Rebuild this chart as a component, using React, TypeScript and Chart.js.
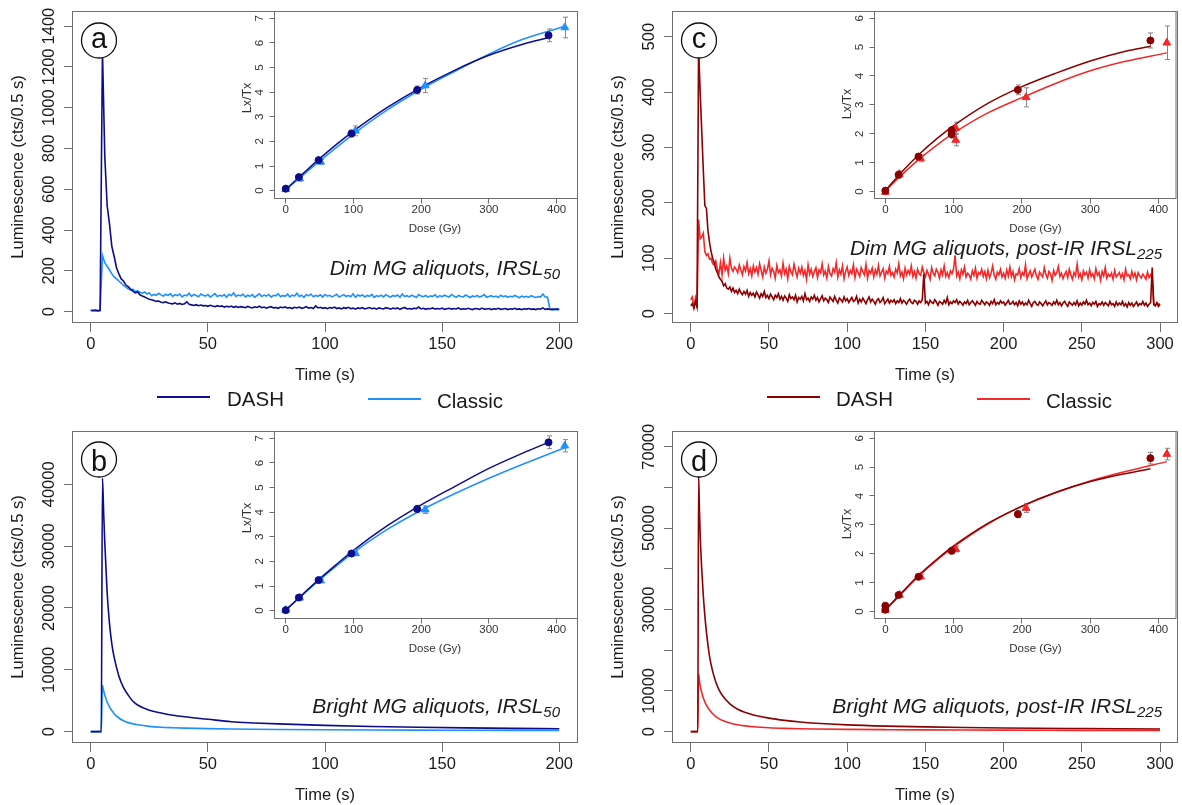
import React, { useEffect, useRef } from "react";
import { Chart, registerables } from "chart.js";
Chart.register(...registerables);

const FONT = "'Liberation Sans', Arial, Helvetica, sans-serif";
const NAVY = "#0c0c8c";
const SKY = "#1e90ff";
const DARKRED = "#8b0000";
const RED = "#f2282a";
const AXIS = "#6e6e6e";
const TEXT = "#1a1a1a";

// ---------------- DATA ----------------
const CHANNEL_S = 1; // dim traces: one value per second of stimulation

const TIME_TICKS_200 = [0, 50, 100, 150, 200];
const TIME_TICKS_300 = [0, 50, 100, 150, 200, 250, 300];
const A_Y_TICKS = [0, 200, 400, 600, 800, 1000, 1200, 1400];
const B_Y_TICKS = [0, 10000, 20000, 30000, 40000];
const C_Y_TICKS = [0, 100, 200, 300, 400, 500];
const D_Y_TICKS = [0, 10000, 20000, 30000, 40000, 50000, 60000, 70000];
const D_Y_LABELS = [0, 10000, 30000, 50000, 70000];
const DOSE_TICKS = [0, 100, 200, 300, 400];
const LXTX_TICKS_7 = [0, 1, 2, 3, 4, 5, 6, 7];
const LXTX_TICKS_6 = [0, 1, 2, 3, 4, 5, 6];

// (a) Dim MG, IRSL50 — counts per channel, t = 0..200 s
const A_DASH = [
  5, 4, 6, 3, 5, 1280, 760, 520, 430, 320, 270, 215, 185, 160, 150, 130, 122, 110, 100, 92,
  96, 82, 76, 72, 66, 60, 58, 54, 50, 52, 46, 44, 48, 42, 40, 38, 43, 36, 40, 35,
  38, 48, 36, 33, 30, 34, 29, 32, 28, 30, 26, 31, 27, 24, 29, 25, 28, 22, 26, 23,
  27, 21, 25, 20, 24, 22, 19, 25, 21, 18, 23, 20, 26, 19, 22, 17, 21, 24, 18, 20,
  16, 22, 19, 23, 17, 20, 15, 21, 18, 22, 16, 19, 24, 17, 20, 15, 28, 18, 21, 16,
  19, 14, 20, 17, 22, 15, 18, 13, 19, 16, 21, 14, 17, 12, 18, 15, 19, 13, 16, 20,
  14, 17, 12, 18, 15, 13, 19, 16, 12, 17, 14, 18, 11, 16, 20, 13, 15, 12, 17, 14,
  22, 13, 16, 11, 15, 14, 18, 12, 15, 13, 17, 11, 14, 16, 12, 15, 13, 18, 11, 14,
  12, 16, 13, 10, 15, 14, 11, 17, 12, 13, 15, 10, 14, 12, 16, 11, 13, 15, 10, 14,
  12, 16, 11, 13, 10, 14, 12, 15, 11, 13, 10, 14, 12, 18, 11, 13, 10, 12, 11, 14,
  10,
];
const A_CLASSIC = [
  8, 6, 9, 5, 7, 275, 240, 222, 205, 185, 170, 160, 150, 140, 128, 120, 112, 105, 110, 98,
  102, 95, 90, 96, 86, 92, 78, 84, 80, 90, 82, 76, 85, 79, 88, 74, 83, 78, 86, 72,
  81, 77, 90, 75, 84, 79, 73, 86, 80, 76, 84, 71, 79, 88, 74, 80, 76, 83, 70, 85,
  78, 92, 74, 81, 77, 86, 72, 80, 75, 83, 70, 79, 87, 74, 81, 76, 84, 71, 80, 77,
  88, 73, 79, 75, 85, 72, 81, 76, 90, 74, 80, 70, 83, 77, 86, 73, 79, 75, 82, 71,
  84, 76, 80, 72, 78, 85, 71, 77, 83, 74, 79, 73, 87, 70, 81, 76, 82, 72, 79, 75,
  84, 70, 78, 74, 80, 72, 83, 76, 71, 79, 75, 81, 70, 86, 74, 78, 72, 80, 75, 69,
  83, 76, 73, 79, 71, 77, 74, 82, 70, 78, 73, 80, 75, 71, 84, 76, 70, 79, 74, 72,
  81, 75, 69, 77, 73, 79, 71, 76, 83, 70, 74, 78, 72, 76, 69, 80, 73, 77, 70, 75,
  72, 79, 74, 68, 76, 71, 75, 70, 78, 73, 69, 74, 71, 86, 72, 70, 12, 9, 11, 8,
  10,
];

// (c) Dim MG, post-IR IRSL225 — t = 0..300 s
const C_DASH = [
  14, 18, 10, 22, 12, 480, 400, 330, 260, 195, 190, 150, 128, 112, 100, 92, 80, 74, 66, 62,
  58, 50, 54, 46, 44, 48, 40, 46, 38, 42, 36, 44, 38, 34, 40, 35, 42, 31, 38, 33,
  37, 30, 39, 34, 28, 36, 31, 40, 29, 33, 27, 35, 30, 25, 33, 29, 36, 26, 31, 24,
  32, 28, 22, 34, 27, 30, 25, 33, 21, 29, 26, 31, 23, 36, 25, 28, 22, 30, 26, 33,
  24, 29, 21, 27, 32, 23, 28, 25, 20, 30, 26, 22, 31, 24, 19, 28, 25, 21, 30, 23,
  27, 20, 25, 29, 22, 24, 31, 19, 26, 21, 28, 23, 18, 25, 30, 21, 26, 22, 17, 24,
  27, 20, 23, 29, 18, 22, 26, 19, 24, 21, 25, 18, 23, 20, 27, 19, 24, 21, 17, 23,
  26, 20, 18, 24, 22, 17, 23, 20, 25, 72, 19, 22, 16, 24, 20, 18, 25, 21, 15, 22,
  20, 17, 24, 19, 29, 16, 21, 18, 23, 20, 25, 17, 22, 19, 15, 21, 18, 24, 16, 20,
  23, 19, 15, 22, 18, 17, 24, 20, 16, 21, 19, 15, 22, 18, 25, 16, 20, 17, 23, 19,
  21, 15, 19, 24, 17, 18, 22, 16, 20, 14, 23, 17, 21, 15, 19, 16, 24, 18, 13, 20,
  22, 17, 15, 21, 18, 14, 19, 23, 16, 20, 18, 15, 21, 17, 24, 16, 20, 14, 19, 22,
  17, 13, 21, 18, 15, 20, 16, 23, 14, 19, 15, 21, 17, 24, 16, 19, 14, 20, 17, 22,
  13, 18, 16, 21, 15, 20, 17, 14, 22, 16, 18, 13, 21, 15, 19, 16, 22, 14, 18, 12,
  20, 15, 19, 13, 17, 21, 14, 18, 16, 22, 15, 19, 13, 17, 20, 83, 16, 14, 19, 13,
  17,
];
const C_CLASSIC = [
  25, 30, 12, 28, 10, 170, 135, 138, 145, 112, 105, 108, 98, 100, 90, 88, 95, 80, 72, 92,
  70, 100, 78, 86, 72, 100, 82, 76, 84, 80, 74, 88, 79, 70, 85, 77, 92, 72, 81, 68,
  86, 75, 83, 71, 90, 78, 66, 84, 73, 80, 95, 70, 82, 76, 64, 87, 74, 79, 68, 91,
  72, 80, 63, 85, 75, 70, 89, 77, 66, 82, 73, 84, 69, 78, 62, 88, 71, 80, 67, 76,
  83, 65, 79, 74, 90, 70, 77, 64, 85, 72, 68, 81, 75, 92, 66, 79, 71, 86, 63, 76,
  84, 69, 78, 72, 88, 65, 80, 74, 67, 83, 76, 70, 89, 64, 78, 73, 82, 66, 79, 71,
  87, 68, 75, 81, 64, 77, 72, 85, 69, 74, 66, 80, 73, 90, 68, 75, 63, 82, 70, 78,
  71, 86, 67, 76, 64, 80, 72, 69, 84, 74, 66, 78, 71, 62, 83, 73, 68, 80, 75, 64,
  79, 70, 86, 67, 74, 65, 77, 72, 81, 105, 68, 75, 63, 79, 71, 84, 66, 73, 70, 62,
  77, 69, 82, 64, 74, 71, 80, 67, 76, 63, 78, 65, 73, 86, 69, 62, 75, 70, 80, 66,
  73, 64, 79, 68, 84, 67, 76, 61, 72, 70, 81, 65, 74, 69, 88, 63, 71, 77, 66, 73,
  80, 68, 62, 75, 70, 66, 83, 71, 64, 76, 72, 60, 78, 69, 74, 85, 67, 73, 63, 71,
  76, 65, 80, 70, 62, 74, 68, 89, 66, 72, 61, 77, 70, 75, 64, 79, 67, 72, 63, 81,
  69, 74, 60, 76, 68, 83, 64, 71, 67, 73, 62, 78, 66, 70, 74, 65, 72, 61, 80, 68,
  70, 63, 76, 66, 73, 61, 74, 68, 64, 71, 67, 62, 75, 65, 70, 64, 18, 15, 20, 16,
  18,
];

// (b) Bright MG, IRSL50
const B_TIME = [0, 4.5, 5, 5.5, 6, 7, 8, 9, 10, 12, 14, 16, 18, 20, 25, 30, 35, 40, 50, 60, 70, 80, 100, 120, 140, 160, 180, 200];
const B_DASH = [0, 0, 41000, 35500, 30500, 22500, 17500, 14200, 12000, 9000, 7100, 5900, 4900, 4300, 3450, 3000, 2650, 2400, 2000, 1600, 1400, 1250, 1000, 830, 700, 600, 520, 450];
const B_CLASSIC = [0, 0, 7500, 6600, 5900, 4800, 4000, 3400, 2900, 2200, 1750, 1450, 1250, 1100, 850, 700, 620, 560, 480, 420, 380, 350, 300, 260, 230, 210, 190, 175];

// (d) Bright MG, post-IR IRSL225
const D_TIME = [0, 4.5, 5, 5.5, 6, 7, 8, 9, 10, 12, 14, 16, 18, 20, 25, 30, 35, 40, 50, 60, 70, 80, 100, 125, 150, 175, 200, 250, 300];
const D_DASH = [0, 0, 63000, 55000, 48500, 40000, 33500, 28500, 24500, 18500, 14800, 12200, 10300, 9000, 6800, 5500, 4700, 4100, 3300, 2750, 2350, 2050, 1650, 1350, 1150, 1000, 900, 750, 620];
const D_CLASSIC = [0, 0, 14200, 12600, 11300, 9600, 8300, 7300, 6500, 5300, 4400, 3700, 3200, 2800, 2100, 1700, 1400, 1200, 950, 800, 700, 630, 540, 470, 420, 380, 350, 300, 260];

// Dose-response insets
const DOSE_DASH = [0, 19.4, 48.5, 97, 194, 388];
const DOSE_CLASSIC = [0, 20.6, 51.5, 103, 206, 412];
const DOSE_DASH_C = [0, 19.4, 48.5, 97, 97, 194, 388];
const DOSE_CLASSIC_C = [0, 20.6, 51.5, 103, 103, 206, 412];
const DOSE_DASH_D = [0, 0, 19.4, 48.5, 97, 194, 388];
const FIT_DOSE_DASH = [0, 25, 50, 75, 100, 150, 200, 250, 300, 350, 388];
const FIT_DOSE_CLASSIC = [0, 25, 50, 75, 100, 150, 200, 250, 300, 350, 412];

const A_DASH_LXTX = [0.08, 0.55, 1.24, 2.32, 4.09, 6.31];
const A_DASH_ERR = [0.05, 0.08, 0.08, 0.14, 0.16, 0.26];
const A_CLASSIC_LXTX = [0.05, 0.49, 1.17, 2.43, 4.27, 6.63];
const A_CLASSIC_ERR = [0.06, 0.1, 0.1, 0.2, 0.29, 0.42];
const A_DASH_FIT = [0.05, 0.68, 1.3, 1.88, 2.42, 3.38, 4.2, 4.9, 5.5, 5.95, 6.22];
const A_CLASSIC_FIT = [0.03, 0.62, 1.2, 1.76, 2.3, 3.28, 4.12, 4.85, 5.55, 6.15, 6.68];

const B_DASH_LXTX = [0.02, 0.53, 1.24, 2.32, 4.13, 6.84];
const B_DASH_ERR = [0.03, 0.06, 0.07, 0.1, 0.15, 0.26];
const B_CLASSIC_LXTX = [0.02, 0.52, 1.22, 2.33, 4.1, 6.7];
const B_CLASSIC_ERR = [0.03, 0.06, 0.07, 0.1, 0.15, 0.25];
const B_DASH_FIT = [0.02, 0.66, 1.29, 1.88, 2.45, 3.45, 4.3, 5.05, 5.78, 6.4, 6.84];
const B_CLASSIC_FIT = [0.02, 0.64, 1.25, 1.82, 2.36, 3.3, 4.08, 4.76, 5.38, 5.95, 6.62];

const C_DASH_LXTX = [0.03, 0.58, 1.21, 2.12, 1.98, 3.52, 5.23];
const C_DASH_ERR = [0.1, 0.12, 0.08, 0.13, 0.13, 0.17, 0.26];
const C_CLASSIC_LXTX = [-0.02, 0.6, 1.15, 2.2, 1.78, 3.26, 5.15];
const C_CLASSIC_ERR = [0.08, 0.1, 0.12, 0.2, 0.2, 0.33, 0.58];
const C_DASH_FIT = [0.03, 0.7, 1.3, 1.82, 2.28, 3.05, 3.63, 4.1, 4.52, 4.85, 5.03];
const C_CLASSIC_FIT = [0.02, 0.6, 1.13, 1.6, 2.02, 2.72, 3.25, 3.75, 4.18, 4.5, 4.8];

const D_DASH_LXTX = [0.2, 0.06, 0.57, 1.2, 2.1, 3.37, 5.31];
const D_DASH_ERR = [0.05, 0.05, 0.07, 0.08, 0.1, 0.12, 0.2];
const D_CLASSIC_LXTX = [0.05, 0.57, 1.21, 2.16, 3.58, 5.45];
const D_CLASSIC_ERR = [0.05, 0.07, 0.08, 0.1, 0.15, 0.2];
const D_DASH_FIT = [0.06, 0.68, 1.28, 1.8, 2.27, 3.05, 3.65, 4.13, 4.5, 4.77, 4.94];
const D_CLASSIC_FIT = [0.04, 0.65, 1.25, 1.77, 2.24, 3.03, 3.64, 4.12, 4.52, 4.84, 5.19];

// ---------------- helpers ----------------
type Series = { t?: number[]; v: number[]; color: string; width: number; smooth?: boolean };
type MainSpec = {
  left: number; top: number; width: number; height: number;
  plot: [number, number, number, number];
  xMin: number; xMax: number; yMin: number; yMax: number;
  xTicks: number[]; yTicks: number[]; yLabels: number[];
  series: Series[]; letter: string; letterAt: [number, number]; letterBase: number;
  yTitleX: number;
};
type InsetSpec = {
  left: number; top: number; width: number; height: number;
  plot: [number, number, number, number];
  xMin: number; xMax: number; yMin: number; yMax: number; yTicks: number[];
  dashDose: number[]; dashVal: number[]; dashErr: number[];
  classicDose: number[]; classicVal: number[]; classicErr: number[];
  dashFit: number[]; classicFit: number[];
  dashColor: string; classicColor: string;
  lxAt: [number, number]; doseAt: [number, number];
};

const pts = (xs: number[], ys: number[]) => ys.map((y, i) => ({ x: xs[i], y }));
const rotText = (ctx: any, text: string, x: number, y: number) => {
  ctx.save();
  ctx.translate(x, y);
  ctx.rotate(-Math.PI / 2);
  ctx.fillText(text, 0, 0);
  ctx.restore();
};

function scaleOpts(min: number, max: number, ticks: number[], tl: number, fit: (s: any) => void) {
  return {
    type: "linear" as const,
    min, max,
    afterBuildTicks: (s: any) => { s.ticks = ticks.map((value) => ({ value })); },
    afterFit: fit,
    ticks: { display: false },
    grid: { drawOnChartArea: false, drawTicks: true, tickLength: tl, color: AXIS, lineWidth: 1 },
    border: { display: false },
  };
}

function buildMain(canvas: HTMLCanvasElement, s: MainSpec) {
  const [pl, pt, pr, pb] = s.plot;
  const decor = {
    id: "mainDecor",
    afterDatasetsDraw(chart: any) {
      const { ctx, chartArea: ca, scales } = chart;
      const xs = scales.x, ys = scales.y;
      ctx.save();
      ctx.strokeStyle = AXIS;
      ctx.lineWidth = 1;
      ctx.strokeRect(ca.left + 0.5, ca.top + 0.5, ca.width - 1, ca.height - 1);
      ctx.fillStyle = TEXT;
      ctx.font = `16.5px ${FONT}`;
      ctx.textAlign = "center";
      ctx.textBaseline = "middle";
      s.xTicks.forEach((v) => ctx.fillText(String(v), xs.getPixelForValue(v), ca.bottom + 21));
      s.yLabels.forEach((v) => rotText(ctx, String(v), ca.left - 23, ys.getPixelForValue(v)));
      ctx.fillText("Time (s)", (ca.left + ca.right) / 2, ca.bottom + 52);
      rotText(ctx, "Luminescence (cts/0.5 s)", s.yTitleX - s.left, (ca.top + ca.bottom) / 2);
      // panel letter
      const cx = s.letterAt[0] - s.left, cy = s.letterAt[1] - s.top;
      ctx.beginPath();
      ctx.arc(cx, cy, 17.5, 0, Math.PI * 2);
      ctx.fillStyle = "#fff";
      ctx.fill();
      ctx.strokeStyle = "#111";
      ctx.lineWidth = 1.3;
      ctx.stroke();
      ctx.fillStyle = "#111";
      ctx.font = `29px ${FONT}`;
      ctx.textBaseline = "alphabetic";
      ctx.fillText(s.letter, cx, cy + s.letterBase);
      ctx.restore();
    },
  };
  return new Chart(canvas, {
    type: "line",
    data: {
      datasets: s.series.map((sr) => ({
        data: sr.v.map((y, i) => ({ x: sr.t ? sr.t[i] : i * CHANNEL_S, y })),
        borderColor: sr.color,
        borderWidth: sr.width,
        pointRadius: 0,
        fill: false,
        tension: 0,
        cubicInterpolationMode: sr.smooth ? "monotone" : "default",
      })) as any,
    },
    options: {
      responsive: false,
      animation: false,
      events: [],
      devicePixelRatio: 1,
      layout: { padding: { left: 0, top: pt - s.top, right: s.left + s.width - pr, bottom: 0 } },
      plugins: { legend: { display: false }, tooltip: { enabled: false } },
      scales: {
        x: scaleOpts(s.xMin, s.xMax, s.xTicks, 9, (sc: any) => { sc.height = s.top + s.height - pb; }),
        y: scaleOpts(s.yMin, s.yMax, s.yTicks, 8, (sc: any) => { sc.width = pl - s.left; }),
      } as any,
    },
    plugins: [decor],
  });
}

function buildInset(canvas: HTMLCanvasElement, s: InsetSpec) {
  const [pl, pt, pr, pb] = s.plot;
  const decor = {
    id: "insetDecor",
    beforeDraw(chart: any) {
      const { ctx, chartArea: ca } = chart;
      ctx.save();
      ctx.fillStyle = "#fff";
      ctx.fillRect(ca.left, ca.top, ca.width, ca.height);
      ctx.restore();
    },
    beforeDatasetsDraw(chart: any) {
      const { ctx, scales } = chart;
      ctx.save();
      ctx.strokeStyle = "#858585";
      ctx.lineWidth = 1;
      chart.data.datasets.forEach((ds: any) => {
        if (!ds.errs) return;
        ds.data.forEach((p: any, i: number) => {
          const e = ds.errs[i];
          const x = Math.round(scales.x.getPixelForValue(p.x)) + 0.5;
          const y1 = scales.y.getPixelForValue(p.y - e);
          const y2 = scales.y.getPixelForValue(p.y + e);
          ctx.beginPath();
          ctx.moveTo(x, y1); ctx.lineTo(x, y2);
          ctx.moveTo(x - 2.5, y1); ctx.lineTo(x + 2.5, y1);
          ctx.moveTo(x - 2.5, y2); ctx.lineTo(x + 2.5, y2);
          ctx.stroke();
        });
      });
      ctx.restore();
    },
    afterDraw(chart: any) {
      const { ctx, chartArea: ca, scales } = chart;
      ctx.save();
      ctx.strokeStyle = AXIS;
      ctx.lineWidth = 1;
      ctx.strokeRect(ca.left + 0.5, ca.top + 0.5, ca.width - 1, ca.height - 1);
      ctx.fillStyle = "#333";
      ctx.font = `11.5px ${FONT}`;
      ctx.textAlign = "center";
      ctx.textBaseline = "middle";
      DOSE_TICKS.forEach((v) => ctx.fillText(String(v), scales.x.getPixelForValue(v), ca.bottom + 11));
      s.yTicks.forEach((v) => rotText(ctx, String(v), ca.left - 14.5, scales.y.getPixelForValue(v)));
      ctx.fillText("Dose (Gy)", s.doseAt[0] - s.left, s.doseAt[1] - s.top);
      ctx.font = `12.5px ${FONT}`;
      rotText(ctx, "Lx/Tx", s.lxAt[0] - s.left, s.lxAt[1] - s.top);
      ctx.restore();
    },
  };
  return new Chart(canvas, {
    type: "line",
    data: {
      datasets: [
        {
          data: pts(s.dashDose, s.dashVal), showLine: false, pointStyle: "circle", pointRadius: 3.5,
          pointBackgroundColor: s.dashColor, pointBorderColor: s.dashColor, pointBorderWidth: 1, errs: s.dashErr,
        },
        {
          data: pts(s.classicDose, s.classicVal), showLine: false, pointStyle: "triangle", pointRadius: 4.5,
          pointBackgroundColor: s.classicColor, pointBorderColor: s.classicColor, pointBorderWidth: 1, errs: s.classicErr,
        },
        {
          data: pts(FIT_DOSE_DASH, s.dashFit), borderColor: s.dashColor, borderWidth: 1.5, pointRadius: 0,
          cubicInterpolationMode: "monotone", fill: false,
        },
        {
          data: pts(FIT_DOSE_CLASSIC, s.classicFit), borderColor: s.classicColor, borderWidth: 1.5, pointRadius: 0,
          cubicInterpolationMode: "monotone", fill: false,
        },
      ] as any,
    },
    options: {
      responsive: false,
      animation: false,
      events: [],
      devicePixelRatio: 1,
      layout: { padding: { left: 0, top: pt - s.top, right: s.left + s.width - pr, bottom: 0 } },
      plugins: { legend: { display: false }, tooltip: { enabled: false } },
      scales: {
        x: scaleOpts(s.xMin, s.xMax, DOSE_TICKS, 4.5, (sc: any) => { sc.height = s.top + s.height - pb; }),
        y: scaleOpts(s.yMin, s.yMax, s.yTicks, 4.5, (sc: any) => { sc.width = pl - s.left; }),
      } as any,
    },
    plugins: [decor],
  });
}

function ChartBox(props: { left: number; top: number; width: number; height: number; build: (c: HTMLCanvasElement) => Chart }) {
  const ref = useRef<HTMLCanvasElement>(null);
  useEffect(() => {
    const chart = props.build(ref.current!);
    return () => chart.destroy();
  }, []);
  return (
    <canvas
      ref={ref}
      width={props.width}
      height={props.height}
      style={{ position: "absolute", left: props.left, top: props.top, width: props.width, height: props.height }}
    />
  );
}

// ---------------- specs ----------------
const MAIN_A: MainSpec = {
  left: 0, top: 0, width: 590, height: 392, plot: [72, 11, 578, 323],
  xMin: -8, xMax: 208, yMin: -56, yMax: 1474, xTicks: TIME_TICKS_200, yTicks: A_Y_TICKS, yLabels: A_Y_TICKS,
  series: [{ v: A_DASH, color: NAVY, width: 1.6 }, { v: A_CLASSIC, color: SKY, width: 1.6 }],
  letter: "a", letterAt: [99, 40.5], letterBase: 7, yTitleX: 18.5,
};
const MAIN_C: MainSpec = {
  left: 595, top: 0, width: 587, height: 392, plot: [672, 11, 1178, 323],
  xMin: -12, xMax: 311.5, yMin: -17, yMax: 546.4, xTicks: TIME_TICKS_300, yTicks: C_Y_TICKS, yLabels: C_Y_TICKS,
  series: [{ v: C_DASH, color: DARKRED, width: 1.6 }, { v: C_CLASSIC, color: RED, width: 1.6 }],
  letter: "c", letterAt: [699, 40.5], letterBase: 7, yTitleX: 618.5,
};
const MAIN_B: MainSpec = {
  left: 0, top: 415, width: 590, height: 390, plot: [72, 431, 578, 743],
  xMin: -8, xMax: 208, yMin: -1846, yMax: 48632, xTicks: TIME_TICKS_200, yTicks: B_Y_TICKS, yLabels: B_Y_TICKS,
  series: [
    { t: B_TIME, v: B_DASH, color: NAVY, width: 1.6, smooth: true },
    { t: B_TIME, v: B_CLASSIC, color: SKY, width: 1.6, smooth: true },
  ],
  letter: "b", letterAt: [99, 459.5], letterBase: 11, yTitleX: 18.5,
};
const MAIN_D: MainSpec = {
  left: 595, top: 415, width: 587, height: 390, plot: [672, 431, 1178, 743],
  xMin: -12, xMax: 311.5, yMin: -2804, yMax: 73862, xTicks: TIME_TICKS_300, yTicks: D_Y_TICKS, yLabels: D_Y_LABELS,
  series: [
    { t: D_TIME, v: D_DASH, color: DARKRED, width: 1.6, smooth: true },
    { t: D_TIME, v: D_CLASSIC, color: RED, width: 1.6, smooth: true },
  ],
  letter: "d", letterAt: [699, 459.5], letterBase: 11, yTitleX: 618.5,
};

const INSET_A: InsetSpec = {
  left: 235, top: 0, width: 355, height: 240, plot: [274, 11, 578, 199],
  xMin: -17.3, xMax: 431.5, yMin: -0.34, yMax: 7.3, yTicks: LXTX_TICKS_7,
  dashDose: DOSE_DASH, dashVal: A_DASH_LXTX, dashErr: A_DASH_ERR,
  classicDose: DOSE_CLASSIC, classicVal: A_CLASSIC_LXTX, classicErr: A_CLASSIC_ERR,
  dashFit: A_DASH_FIT, classicFit: A_CLASSIC_FIT, dashColor: NAVY, classicColor: SKY,
  lxAt: [247.5, 98], doseAt: [435, 229],
};
const INSET_B: InsetSpec = {
  ...INSET_A, top: 420, plot: [274, 431, 578, 619],
  dashVal: B_DASH_LXTX, dashErr: B_DASH_ERR, classicVal: B_CLASSIC_LXTX, classicErr: B_CLASSIC_ERR,
  dashFit: B_DASH_FIT, classicFit: B_CLASSIC_FIT, lxAt: [247.5, 518], doseAt: [435, 649],
};
const INSET_C: InsetSpec = {
  left: 835, top: 0, width: 347, height: 240, plot: [874, 11, 1178, 199],
  xMin: -16.6, xMax: 426.2, yMin: -0.26, yMax: 6.25, yTicks: LXTX_TICKS_6,
  dashDose: DOSE_DASH_C, dashVal: C_DASH_LXTX, dashErr: C_DASH_ERR,
  classicDose: DOSE_CLASSIC_C, classicVal: C_CLASSIC_LXTX, classicErr: C_CLASSIC_ERR,
  dashFit: C_DASH_FIT, classicFit: C_CLASSIC_FIT, dashColor: DARKRED, classicColor: RED,
  lxAt: [847.5, 104], doseAt: [1035.5, 229],
};
const INSET_D: InsetSpec = {
  ...INSET_C, top: 420, plot: [874, 431, 1178, 619],
  dashDose: DOSE_DASH_D, dashVal: D_DASH_LXTX, dashErr: D_DASH_ERR,
  classicDose: DOSE_CLASSIC, classicVal: D_CLASSIC_LXTX, classicErr: D_CLASSIC_ERR,
  dashFit: D_DASH_FIT, classicFit: D_CLASSIC_FIT, lxAt: [847.5, 524], doseAt: [1035.5, 649],
};

const abs = (o: any) => ({ position: "absolute" as const, ...o });
const subStyle = { fontSize: 15, verticalAlign: "-4px", lineHeight: 0 };

function Legend({ x, dash, classic }: { x: number[]; dash: string; classic: string }) {
  return (
    <>
      <div style={abs({ left: x[0], top: 396, width: 53, height: 2, background: dash })} />
      <div style={abs({ left: x[1], top: 387, fontSize: 20.5, lineHeight: "24px" })}>DASH</div>
      <div style={abs({ left: x[2], top: 398, width: 53, height: 2, background: classic })} />
      <div style={abs({ left: x[3], top: 389, fontSize: 20.5, lineHeight: "24px" })}>Classic</div>
    </>
  );
}

export default function App() {
  return (
    <div style={{ position: "absolute", left: 0, top: 0, width: 1182, height: 805, background: "#fff", fontFamily: FONT, color: TEXT, overflow: "hidden" }}>
      <ChartBox left={MAIN_A.left} top={MAIN_A.top} width={MAIN_A.width} height={MAIN_A.height} build={(c) => buildMain(c, MAIN_A)} />
      <ChartBox left={MAIN_C.left} top={MAIN_C.top} width={MAIN_C.width} height={MAIN_C.height} build={(c) => buildMain(c, MAIN_C)} />
      <ChartBox left={MAIN_B.left} top={MAIN_B.top} width={MAIN_B.width} height={MAIN_B.height} build={(c) => buildMain(c, MAIN_B)} />
      <ChartBox left={MAIN_D.left} top={MAIN_D.top} width={MAIN_D.width} height={MAIN_D.height} build={(c) => buildMain(c, MAIN_D)} />
      <ChartBox left={INSET_A.left} top={INSET_A.top} width={INSET_A.width} height={INSET_A.height} build={(c) => buildInset(c, INSET_A)} />
      <ChartBox left={INSET_C.left} top={INSET_C.top} width={INSET_C.width} height={INSET_C.height} build={(c) => buildInset(c, INSET_C)} />
      <ChartBox left={INSET_B.left} top={INSET_B.top} width={INSET_B.width} height={INSET_B.height} build={(c) => buildInset(c, INSET_B)} />
      <ChartBox left={INSET_D.left} top={INSET_D.top} width={INSET_D.width} height={INSET_D.height} build={(c) => buildInset(c, INSET_D)} />

      <div style={abs({ right: 1182 - 560, top: 257, fontSize: 21, fontStyle: "italic", whiteSpace: "nowrap", lineHeight: "21px" })}>
        Dim MG aliquots, IRSL<sub style={subStyle}>50</sub>
      </div>
      <div style={abs({ right: 1182 - 1162, top: 236.5, fontSize: 21, fontStyle: "italic", whiteSpace: "nowrap", lineHeight: "21px" })}>
        Dim MG aliquots, post-IR IRSL<sub style={subStyle}>225</sub>
      </div>
      <div style={abs({ right: 1182 - 560, top: 695, fontSize: 21, fontStyle: "italic", whiteSpace: "nowrap", lineHeight: "21px" })}>
        Bright MG aliquots, IRSL<sub style={subStyle}>50</sub>
      </div>
      <div style={abs({ right: 1182 - 1162, top: 695, fontSize: 21, fontStyle: "italic", whiteSpace: "nowrap", lineHeight: "21px" })}>
        Bright MG aliquots, post-IR IRSL<sub style={subStyle}>225</sub>
      </div>

      <Legend x={[157, 227, 368, 437]} dash={NAVY} classic={SKY} />
      <Legend x={[767, 836, 977, 1046]} dash={DARKRED} classic={RED} />
    </div>
  );
}
